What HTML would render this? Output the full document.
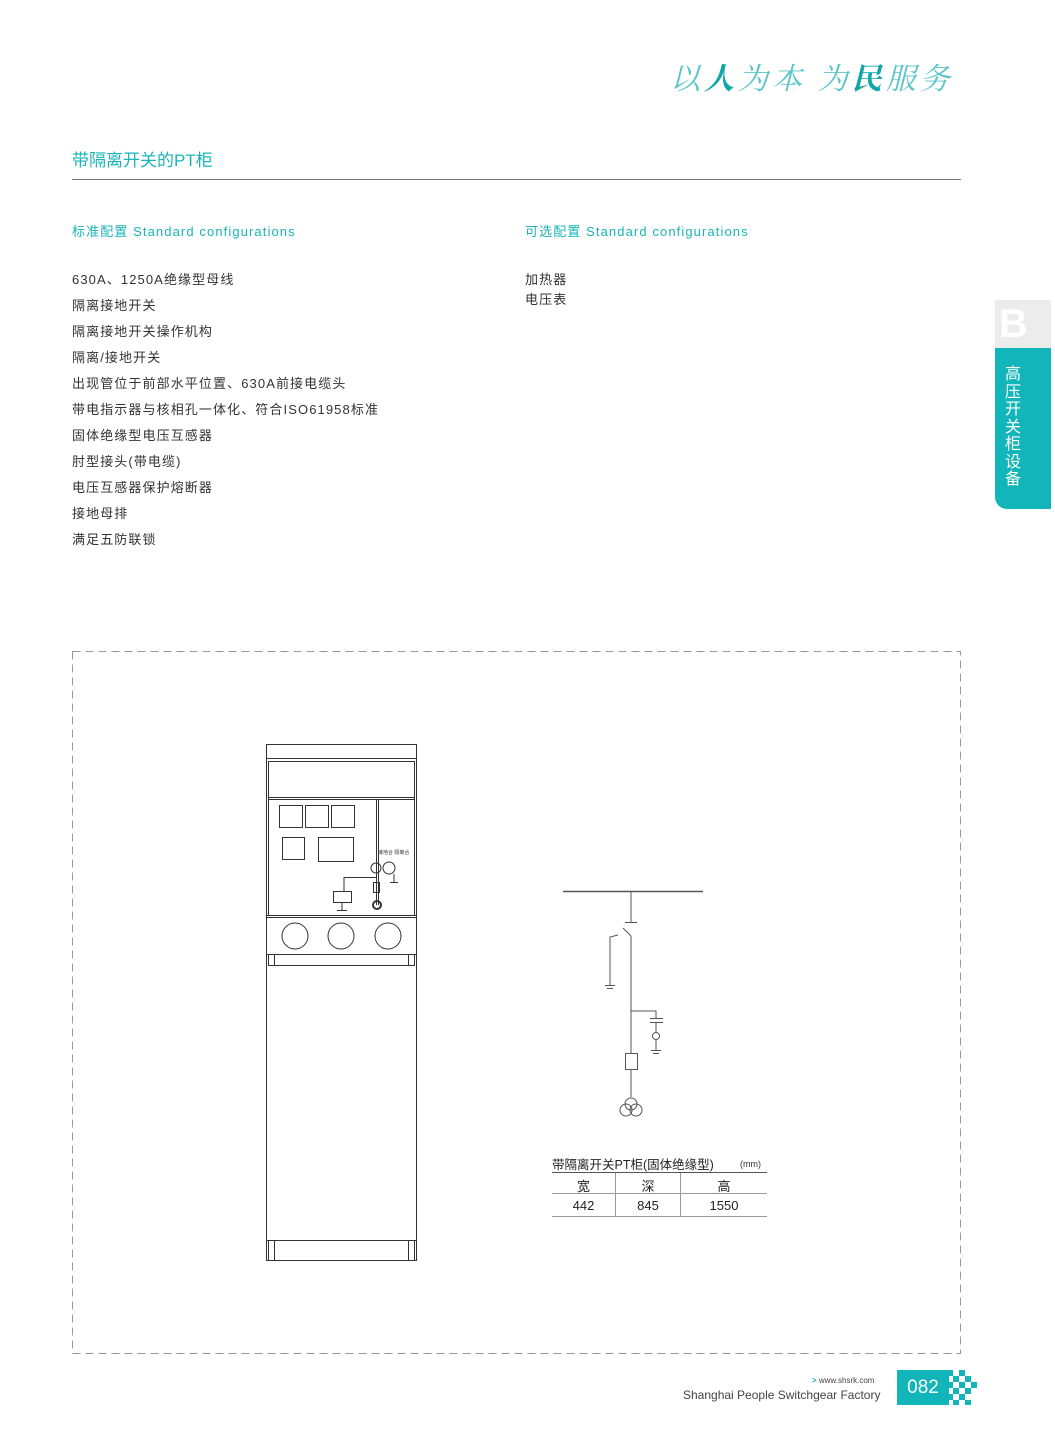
<!DOCTYPE html>
<html><head><meta charset="utf-8"><style>
body{margin:0;width:1055px;height:1441px;background:#fff;position:relative;overflow:hidden;font-family:"Liberation Sans","Noto Sans CJK SC",sans-serif;}
.a{position:absolute;white-space:nowrap;}
.t{color:#1ab4b8;}
.list div{height:26px;font-size:13px;color:#333;letter-spacing:1.1px;}
</style></head><body>
<div class="a t" style="left:670px;top:54px;font-size:30px;font-family:'Noto Serif CJK SC',serif;letter-spacing:4px;color:#5cc5c8;font-style:italic">以<b style="color:#12a6a8">人</b>为本 为<b style="color:#12a6a8">民</b>服务</div>
<div class="a t" style="left:72px;top:146px;font-size:17px">带隔离开关的PT柜</div>
<div class="a" style="left:72px;top:179px;width:889px;height:1px;background:#777"></div>
<div class="a t" style="left:72px;top:221px;font-size:13px;letter-spacing:1.1px">标准配置 Standard configurations</div>
<div class="a t" style="left:525px;top:221px;font-size:13px;letter-spacing:1.1px">可选配置 Standard configurations</div>
<div class="a list" style="left:72px;top:269px">
<div>630A、1250A绝缘型母线</div><div>隔离接地开关</div><div>隔离接地开关操作机构</div><div>隔离/接地开关</div><div>出现管位于前部水平位置、630A前接电缆头</div><div>带电指示器与核相孔一体化、符合ISO61958标准</div><div>固体绝缘型电压互感器</div><div>肘型接头(带电缆)</div><div>电压互感器保护熔断器</div><div>接地母排</div><div>满足五防联锁</div></div>
<div class="a list" style="left:525px;top:269px"><div style="height:20px">加热器</div><div>电压表</div></div>
<div class="a" style="left:995px;top:300px;width:56px;height:48px;background:#ececec;color:#fff;font-size:40px;font-weight:bold;line-height:48px;padding-left:4px;box-sizing:border-box">B</div>
<div class="a" style="left:995px;top:348px;width:56px;height:161px;background:#12b5b9;border-bottom-left-radius:12px"></div>
<div class="a" style="left:1005px;top:366px;width:18px;color:#fff;font-size:16px;line-height:17.5px;white-space:normal">高压开关柜设备</div>
<svg class="a" style="left:0;top:0" width="1055" height="1441" fill="none" stroke="#333" stroke-width="1">
<rect x="72.5" y="651.5" width="888" height="702" stroke="#999" stroke-dasharray="8,5"/>
<rect x="266.5" y="744.5" width="150" height="516"/>
<line x1="266" y1="758.5" x2="416" y2="758.5"/>
<rect x="268.5" y="761.5" width="146" height="154"/>
<line x1="268" y1="797.5" x2="415" y2="797.5"/><line x1="268" y1="799.5" x2="415" y2="799.5"/>
<line x1="376.5" y1="799" x2="376.5" y2="905"/><line x1="378.5" y1="799" x2="378.5" y2="905"/>
<rect x="279.5" y="805.5" width="23" height="22"/><rect x="305.5" y="805.5" width="23" height="22"/><rect x="331.5" y="805.5" width="23" height="22"/>
<rect x="282.5" y="837.5" width="22" height="22"/><rect x="318.5" y="837.5" width="35" height="24"/>
<circle cx="376" cy="868" r="5"/><circle cx="389" cy="868" r="6"/>
<line x1="344" y1="877.5" x2="376" y2="877.5"/><line x1="344" y1="877" x2="344" y2="892"/>
<rect x="333.5" y="891.5" width="18" height="11"/><line x1="342" y1="903" x2="342" y2="910"/><line x1="337" y1="910.5" x2="347" y2="910.5"/>
<rect x="373.5" y="882.5" width="6" height="10"/><circle cx="377" cy="905" r="4" stroke-width="2"/>
<line x1="394" y1="874" x2="394" y2="882"/><line x1="390" y1="882.5" x2="398" y2="882.5"/>
<rect x="266.5" y="915.5" width="150" height="2"/>
<circle cx="295" cy="936" r="13"/><circle cx="341" cy="936" r="13"/><circle cx="388" cy="936" r="13"/>
<line x1="266" y1="954.5" x2="416" y2="954.5"/><rect x="268.5" y="954.5" width="146" height="11"/>
<line x1="274.5" y1="955" x2="274.5" y2="965"/><line x1="408.5" y1="955" x2="408.5" y2="965"/>
<line x1="266" y1="1240.5" x2="416" y2="1240.5"/>
<line x1="268.5" y1="1240" x2="268.5" y2="1260"/><line x1="274.5" y1="1240" x2="274.5" y2="1260"/>
<line x1="408.5" y1="1240" x2="408.5" y2="1260"/><line x1="414.5" y1="1240" x2="414.5" y2="1260"/>
<g stroke="#555">
<line x1="563" y1="891.5" x2="703" y2="891.5" stroke-width="1.5"/>
<line x1="631" y1="891" x2="631" y2="922"/><line x1="625" y1="922.5" x2="637" y2="922.5"/>
<line x1="631" y1="936" x2="631" y2="1054"/><line x1="631" y1="936" x2="623" y2="928"/>
<polyline points="618,935 610,937 610,985"/><line x1="605" y1="985.5" x2="615" y2="985.5"/><line x1="607" y1="988.5" x2="613" y2="988.5"/>
<polyline points="631,1011 656,1011 656,1018"/><line x1="650" y1="1018.5" x2="663" y2="1018.5"/><line x1="650" y1="1022.5" x2="663" y2="1022.5"/>
<line x1="656" y1="1023" x2="656" y2="1032"/><circle cx="656" cy="1036" r="3.5"/><line x1="656" y1="1040" x2="656" y2="1050"/>
<line x1="651" y1="1050.5" x2="661" y2="1050.5"/><line x1="653" y1="1053.5" x2="659" y2="1053.5"/>
<rect x="625.5" y="1053.5" width="12" height="16"/><line x1="631" y1="1070" x2="631" y2="1097"/>
<circle cx="631" cy="1104" r="6"/><circle cx="626" cy="1110" r="6"/><circle cx="636" cy="1110" r="6"/>
</g>
<line x1="552" y1="1172.5" x2="767" y2="1172.5" stroke="#555"/><line x1="552" y1="1193.5" x2="767" y2="1193.5" stroke="#999"/><line x1="552" y1="1216.5" x2="767" y2="1216.5" stroke="#999"/>
<line x1="615.5" y1="1173" x2="615.5" y2="1216" stroke="#999"/><line x1="680.5" y1="1173" x2="680.5" y2="1216" stroke="#999"/>
</svg>
<div class="a" style="left:378px;top:849px;font-size:5px;color:#333">接地合 隔离合</div>
<div class="a" style="left:552px;top:1154px;font-size:12.5px;color:#222">带隔离开关PT柜(固体绝缘型)</div>
<div class="a" style="left:740px;top:1159px;font-size:9px;color:#333">(mm)</div>
<div class="a" style="left:552px;top:1176px;width:63px;text-align:center;font-size:13px;color:#222">宽</div>
<div class="a" style="left:616px;top:1176px;width:64px;text-align:center;font-size:13px;color:#222">深</div>
<div class="a" style="left:681px;top:1176px;width:86px;text-align:center;font-size:13px;color:#222">高</div>
<div class="a" style="left:552px;top:1198px;width:63px;text-align:center;font-size:13px;color:#222">442</div>
<div class="a" style="left:616px;top:1198px;width:64px;text-align:center;font-size:13px;color:#222">845</div>
<div class="a" style="left:681px;top:1198px;width:86px;text-align:center;font-size:13px;color:#222">1550</div>
<div class="a" style="left:812px;top:1376px;font-size:8px;color:#444"><span class="t" style="font-weight:bold">&gt;</span> www.shsrk.com</div>
<div class="a" style="left:683px;top:1388px;font-size:12px;color:#444">Shanghai People Switchgear Factory</div>
<div class="a" style="left:897px;top:1370px;width:52px;height:35px;background:#12b5b9;color:#fff;font-size:19px;line-height:35px;text-align:center">082</div>
<svg class="a" style="left:947px;top:1370px" width="32" height="36" fill="#12b5b9">
<rect x="0" y="0" width="6" height="6"/><rect x="12" y="0" width="6" height="6"/><rect x="6" y="6" width="6" height="6"/><rect x="18" y="6" width="6" height="6"/><rect x="0" y="12" width="6" height="6"/><rect x="12" y="12" width="6" height="6"/><rect x="24" y="12" width="6" height="6"/><rect x="6" y="18" width="6" height="6"/><rect x="18" y="18" width="6" height="6"/><rect x="0" y="24" width="6" height="6"/><rect x="12" y="24" width="6" height="6"/><rect x="6" y="30" width="6" height="5"/><rect x="18" y="30" width="6" height="5"/>
</svg>
</body></html>
